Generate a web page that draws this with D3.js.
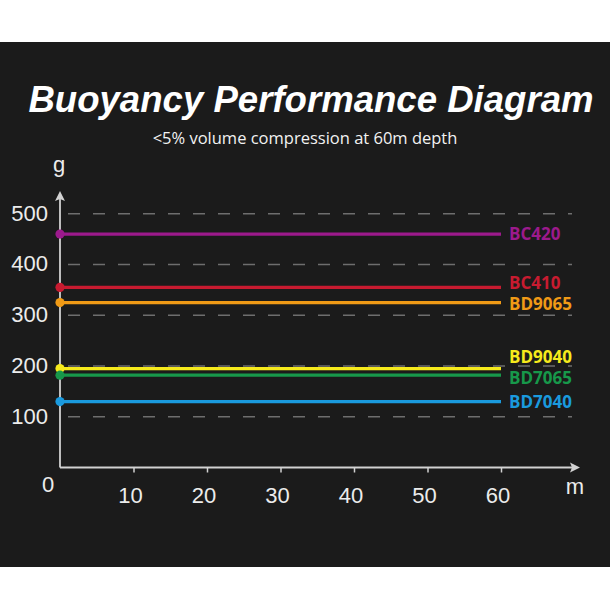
<!DOCTYPE html>
<html>
<head>
<meta charset="utf-8">
<script src="https://cdn.jsdelivr.net/npm/d3@7"></script>
<style>
  html, body { margin: 0; padding: 0; background: #ffffff; }
  svg { display: block; }
</style>
</head>
<body>
<script>
// ---- data ----
const seriesNames = ["BC420", "BC410", "BD9065", "BD9040", "BD7065", "BD7040"];
const buoyancyGrams = [460, 355, 325, 195, 182, 130];
const seriesColors = ["#9c1a8c", "#c81b30", "#f09a16", "#f6ea1c", "#17984a", "#1a9ade"];
const depthDomain = [0, 60];
const depthTicks = [10, 20, 30, 40, 50, 60];
const gramTicks = [100, 200, 300, 400, 500];
const titleText = "Buoyancy Performance Diagram";
const subtitleText = "<5% volume compression at 60m depth";

// ---- layout ----
const W = 610, H = 610;
const svg = d3.select("body").append("svg").attr("width", W).attr("height", H);

svg.append("rect").attr("x", 0).attr("y", 0).attr("width", W).attr("height", H).attr("fill", "#ffffff");
svg.append("rect").attr("x", 0).attr("y", 42).attr("width", W).attr("height", 525).attr("fill", "#1b1b1b");

const x = d3.scaleLinear().domain(depthDomain).range([60, 501]);
const y = d3.scaleLinear().domain([0, 500]).range([467.5, 213.8]);

// title
svg.append("text")
  .attr("x", 311).attr("y", 112)
  .attr("text-anchor", "middle")
  .attr("font-family", "'Liberation Sans', Arial, sans-serif")
  .attr("font-weight", "bold").attr("font-style", "italic")
  .attr("font-size", 36.6).attr("fill", "#ffffff")
  .text(titleText);

svg.append("text")
  .attr("x", 305).attr("y", 144)
  .attr("text-anchor", "middle")
  .attr("font-family", "'Open Sans', 'Noto Sans', sans-serif")
  .attr("font-size", 16.5).attr("fill", "#f2f2f2")
  .text(subtitleText);

// grid
svg.append("g").selectAll("line").data(gramTicks).join("line")
  .attr("x1", 68).attr("x2", 572)
  .attr("y1", d => y(d)).attr("y2", d => y(d))
  .attr("stroke", "#6e6e6e").attr("stroke-width", 1.5)
  .attr("stroke-dasharray", "12,13");

// axes
const axisColor = "#d2d2d2";
const xAxis = d3.axisBottom(x).tickValues(depthTicks).tickSize(5).tickFormat("");
const gx = svg.append("g").attr("transform", `translate(0,${y(0)})`).call(xAxis);
gx.select(".domain").remove();
gx.selectAll(".tick line").attr("stroke", axisColor).attr("stroke-width", 1.5);

svg.append("line").attr("x1", x(0)).attr("x2", 574).attr("y1", y(0)).attr("y2", y(0))
  .attr("stroke", axisColor).attr("stroke-width", 1.8);
svg.append("path").attr("d", `M580,${y(0)} L570,${y(0) - 5} L572,${y(0)} L570,${y(0) + 5} Z`).attr("fill", axisColor);

svg.append("line").attr("x1", x(0)).attr("x2", x(0)).attr("y1", y(0)).attr("y2", 198)
  .attr("stroke", axisColor).attr("stroke-width", 1.8);
svg.append("path").attr("d", `M${x(0)},191 L${x(0) - 5},201 L${x(0)},199 L${x(0) + 5},201 Z`).attr("fill", axisColor);

const tickFont = "'Liberation Sans', Arial, sans-serif";
svg.append("g").selectAll("text").data(depthTicks).join("text")
  .attr("x", d => x(d) - 3).attr("y", 503)
  .attr("text-anchor", "middle")
  .attr("font-family", tickFont).attr("font-size", 22).attr("fill", "#ececec")
  .text(d => d);

svg.append("g").selectAll("text").data(gramTicks).join("text")
  .attr("x", 48).attr("y", d => y(d) - 1)
  .attr("dy", "0.36em")
  .attr("text-anchor", "end")
  .attr("font-family", tickFont).attr("font-size", 22).attr("fill", "#ececec")
  .text(d => d);

svg.append("text").attr("x", 48).attr("y", 484).attr("dy", "0.36em")
  .attr("text-anchor", "middle")
  .attr("font-family", tickFont).attr("font-size", 22).attr("fill", "#ececec")
  .text("0");

svg.append("text").attr("x", 59).attr("y", 172)
  .attr("text-anchor", "middle")
  .attr("font-family", tickFont).attr("font-size", 22).attr("fill", "#ececec")
  .text("g");
svg.append("text").attr("x", 575).attr("y", 494)
  .attr("text-anchor", "middle")
  .attr("font-family", tickFont).attr("font-size", 22).attr("fill", "#ececec")
  .text("m");

// series
const series = seriesNames.map((name, i) => ({
  name, value: buoyancyGrams[i], color: seriesColors[i],
  pts: depthDomain.map(dp => ({ depth: dp, g: buoyancyGrams[i] }))
}));

const line = d3.line().x(d => x(d.depth)).y(d => y(d.g));
const gs = svg.append("g");
gs.selectAll("path").data(series).join("path")
  .attr("d", d => line(d.pts))
  .attr("fill", "none").attr("stroke", d => d.color).attr("stroke-width", 3.2);
gs.selectAll("circle").data(series).join("circle")
  .attr("cx", x(depthDomain[0])).attr("cy", d => y(d.value)).attr("r", 4.6)
  .attr("fill", d => d.color);

// label dodge
const labels = series.map(s => ({ s, ly: y(s.value) })).sort((a, b) => a.ly - b.ly);
const minGap = 21;
for (let it = 0; it < 30; it++) {
  for (let i = 1; i < labels.length; i++) {
    const gap = labels[i].ly - labels[i - 1].ly;
    if (gap < minGap) {
      const ov = minGap - gap;
      labels[i - 1].ly -= ov * 0.8;
      labels[i].ly += ov * 0.2;
    }
  }
}
svg.append("g").selectAll("text").data(labels).join("text")
  .attr("x", x(depthDomain[1]) + 8).attr("y", d => d.ly)
  .attr("dy", "0.36em")
  .attr("font-family", "'Open Sans', 'Noto Sans', sans-serif")
  .attr("font-weight", 700).attr("font-size", 17)
  .attr("fill", d => d.s.color)
  .text(d => d.s.name);
</script>
</body>
</html>
